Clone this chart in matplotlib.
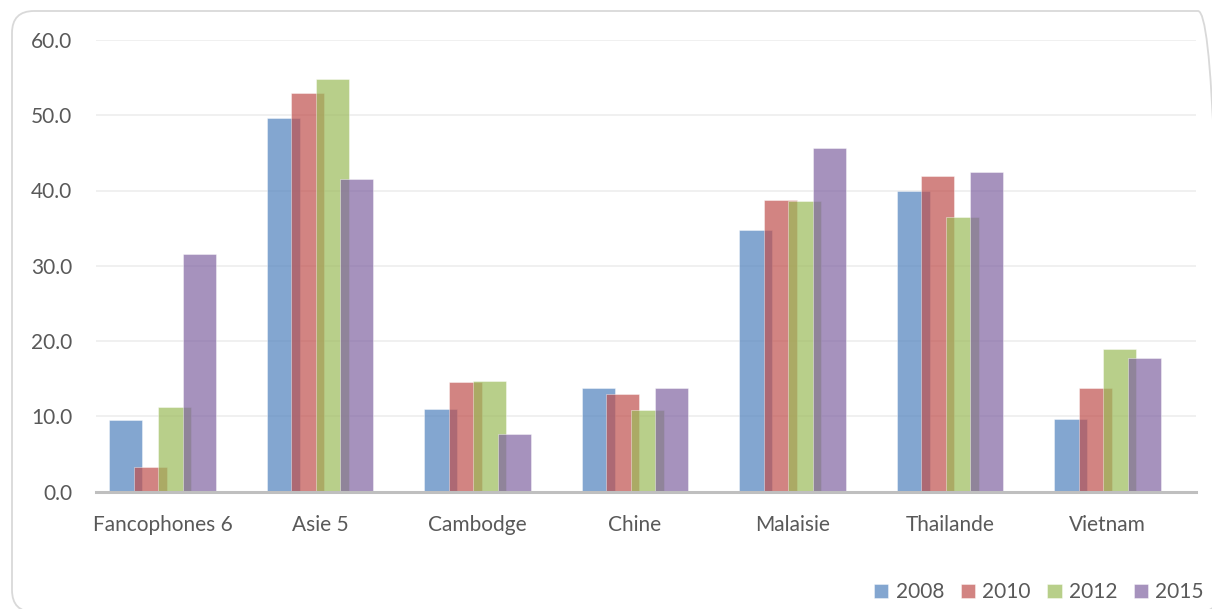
import numpy as np
import matplotlib
matplotlib.use("Agg")
from matplotlib import pyplot as plt
from matplotlib.patches import FancyBboxPatch
from matplotlib.transforms import IdentityTransform

# data
categories = ['Fancophones 6', 'Asie 5', 'Cambodge', 'Chine', 'Malaisie', 'Thailande', 'Vietnam']
years = ['2008', '2010', '2012', '2015']
values_2008 = [9.5, 49.6, 10.9, 13.7, 34.8, 39.9, 9.7]
values_2010 = [3.2, 53.0, 14.5, 13.0, 38.8, 41.9, 13.8]
values_2012 = [11.2, 54.8, 14.7, 10.8, 38.6, 36.5, 18.9]
values_2015 = [31.5, 41.5, 7.6, 13.7, 45.6, 42.5, 17.7]
yticks = [0, 10, 20, 30, 40, 50, 60]

series = [values_2008, values_2010, values_2012, values_2015]
colors = ['#4F81BD', '#C0504D', '#9BBB59', '#8064A2']
text_color = '#595959'

plt.rcParams['font.family'] = ['Lato', 'DejaVu Sans']

W, H = 1212, 609
fig = plt.figure(figsize=(W / 100, H / 100), dpi=100)

# rounded chart border, running slightly off the right/bottom edges
border = FancyBboxPatch((12, -3), 1208, 601, boxstyle='round,pad=0,rounding_size=22',
                        transform=IdentityTransform(), facecolor='none',
                        edgecolor='#D9D9D9', linewidth=1.3)
fig.patches.append(border)

ax = fig.add_axes([96 / W, (H - 491.5) / H, 1100 / W, 451.5 / H])

x = np.arange(len(categories))
width = 0.2076
step = 0.1556
for i, (vals, col, yr) in enumerate(zip(series, colors, years)):
    ax.bar(x + (i - 1.5) * step, vals, width, color=col, alpha=0.7, label=yr,
           edgecolor='white', linewidth=0.4, zorder=2 + i)

ax.set_xlim(-0.422, 6.562)
ax.set_ylim(0, 60)
ax.set_yticks(yticks)
ax.set_yticklabels(['%.1f' % v for v in yticks])
ax.set_xticks(x)
ax.set_xticklabels(categories)

ax.grid(axis='y', color='#EDEDED', linewidth=1.2, zorder=0)
ax.set_axisbelow(True)
for s in ['top', 'right', 'left']:
    ax.spines[s].set_visible(False)
ax.spines['bottom'].set_color('#BFBFBF')
ax.spines['bottom'].set_linewidth(2.2)
ax.spines['bottom'].set_zorder(10)
ax.tick_params(axis='both', length=0, labelsize=15, colors=text_color)
ax.tick_params(axis='y', pad=17)
ax.tick_params(axis='x', pad=17)

ax.legend(loc='center right', bbox_to_anchor=(1204 / W, (H - 592) / H),
          bbox_transform=fig.transFigure, ncol=4, frameon=False, fontsize=15,
          handlelength=0.68, handleheight=0.68, handletextpad=0.35,
          columnspacing=0.8, borderpad=0, borderaxespad=0, labelcolor=text_color)

fig.savefig('out.png', dpi=100)
